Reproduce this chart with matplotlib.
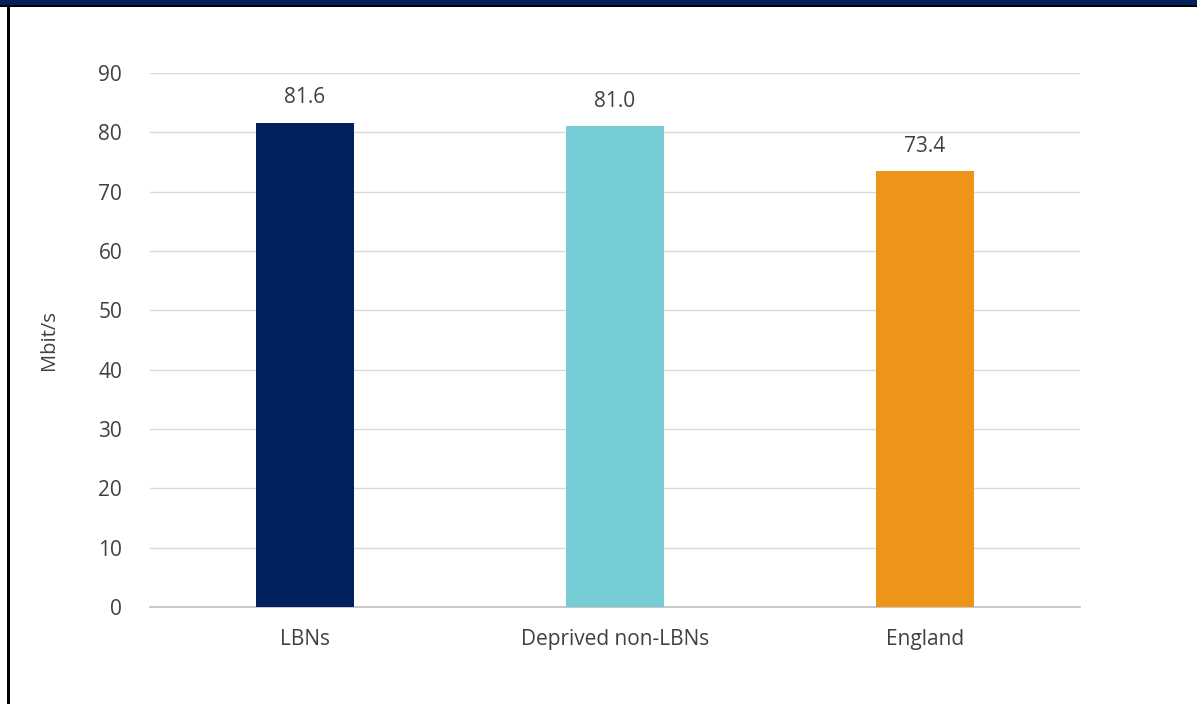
import matplotlib
matplotlib.use("Agg")
import matplotlib.pyplot as plt
from matplotlib.patches import Rectangle

categories = ["LBNs", "Deprived non-LBNs", "England"]
values = [81.6, 81.0, 73.4]
colors = ["#01215E", "#77CDD6", "#EE9418"]
yticks = [0, 10, 20, 30, 40, 50, 60, 70, 80, 90]

plt.rcParams['font.family'] = ['Open Sans', 'DejaVu Sans']

W, H = 1197, 704
fig = plt.figure(figsize=(W / 100, H / 100), dpi=100)

# frame decorations: navy header strip, black line, left border
fig.patches.append(Rectangle((0, 1 - 5 / H), 1, 5 / H, transform=fig.transFigure,
                             facecolor="#002060", edgecolor="none", zorder=0))
fig.patches.append(Rectangle((0, 1 - 7 / H), 1, 2 / H, transform=fig.transFigure,
                             facecolor="black", edgecolor="none", zorder=0))
fig.patches.append(Rectangle((7 / W, 0), 2.5 / W, 1 - 5 / H, transform=fig.transFigure,
                             facecolor="black", edgecolor="none", zorder=0))

ax = fig.add_axes([150 / W, 97 / H, 930 / W, 534 / H])
x = range(len(categories))
ax.bar(x, values, width=0.314, color=colors, zorder=3)
for xi, v in zip(x, values):
    ax.text(xi, v + 2.5, f"{v:.1f}", ha="center", va="bottom",
            fontsize=15, color="#404040")

ax.set_xlim(-0.5, 2.5)
ax.set_ylim(0, 90)
ax.set_yticks(yticks)
ax.set_xticks(list(x))
ax.set_xticklabels(categories)
ax.tick_params(axis="both", length=0, labelsize=15, colors="#404040")
ax.tick_params(axis="y", pad=20)
ax.tick_params(axis="x", pad=16)
ax.grid(axis="y", color="#D9D9D9", linewidth=1, zorder=0)
for s in ["top", "right", "left"]:
    ax.spines[s].set_visible(False)
ax.spines["bottom"].set_color("#BFBFBF")
ax.spines["bottom"].set_linewidth(1.2)
ax.set_ylabel("Mbit/s", fontsize=14.5, color="#404040", labelpad=28)

fig.savefig("out.png", dpi=100)
